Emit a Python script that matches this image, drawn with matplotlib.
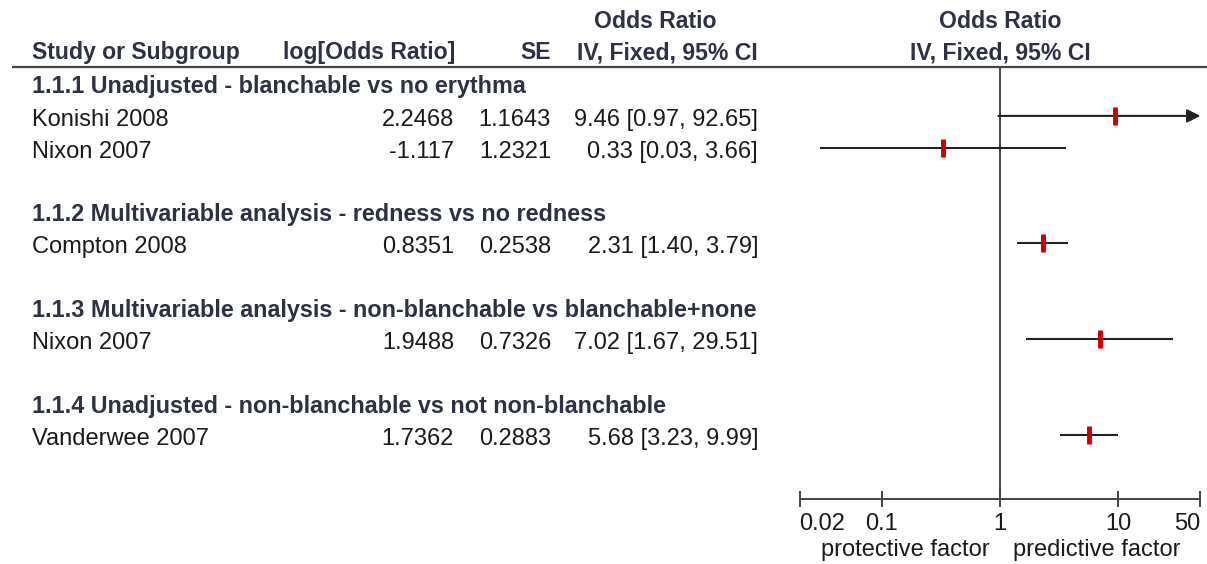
import matplotlib
matplotlib.use("Agg")
import matplotlib.pyplot as plt

# ---- data -------------------------------------------------------------
subgroups = [
    "1.1.1 Unadjusted - blanchable vs no erythma",
    "1.1.2 Multivariable analysis - redness vs no redness",
    "1.1.3 Multivariable analysis - non-blanchable vs blanchable+none",
    "1.1.4 Unadjusted - non-blanchable vs not non-blanchable",
]
subgroup_rows = [0, 4, 7, 10]

studies = ["Konishi 2008", "Nixon 2007", "Compton 2008", "Nixon 2007", "Vanderwee 2007"]
study_rows = [1, 2, 5, 8, 11]
log_or = ["2.2468", "-1.117", "0.8351", "1.9488", "1.7362"]
se = ["1.1643", "1.2321", "0.2538", "0.7326", "0.2883"]
odds_ratio = [9.46, 0.33, 2.31, 7.02, 5.68]
ci_low = [0.97, 0.03, 1.40, 1.67, 3.23]
ci_high = [92.65, 3.66, 3.79, 29.51, 9.99]

tick_values = [0.02, 0.1, 1, 10, 50]
tick_labels = ["0.02", "0.1", "1", "10", "50"]
x_min, x_max = 0.02, 50

# ---- layout -----------------------------------------------------------
W, H = 1207, 564
ROW0, ROW_H = 84.0, 31.9          # pixel y of row 0 and row pitch


def row_of(py):
    return (py - ROW0) / ROW_H


def nudge(px):
    return px / ROW_H


FONT = "Liberation Sans"
FS = 17
FS_HEAD = 16.6
HEAD_C = "#2c3244"
TEXT_C = "#1a1a1a"
LINE_C = "#444444"

fig = plt.figure(figsize=(W / 100, H / 100), dpi=100)
fig.patch.set_facecolor("white")

# background axes for the table: x in pixels, y in row units
bg = fig.add_axes([0, 0, 1, 1])
bg.set_xlim(0, W)
bg.set_ylim(row_of(H), row_of(0))
bg.axis("off")

# forest plot axes on a log scale
px_left = 1000 - 118 * 1.699
px_right = 1000 + 118 * 1.699
py_top, py_bot = 67, 499
fax = fig.add_axes([px_left / W, (H - py_bot) / H,
                    (px_right - px_left) / W, (py_bot - py_top) / H])
fax.set_xscale("log")
fax.set_xlim(x_min, x_max)
fax.set_ylim(row_of(py_bot), row_of(py_top))
fax.patch.set_alpha(0)
for s in ("top", "right", "left"):
    fax.spines[s].set_visible(False)
fax.spines["bottom"].set_color(LINE_C)
fax.spines["bottom"].set_linewidth(1.4)
fax.set_yticks([])
fax.set_xticks(tick_values)
fax.set_xticklabels(tick_labels)
fax.minorticks_off()
fax.tick_params(axis="x", direction="inout", length=12, width=1.4,
                color=LINE_C, pad=4, labelsize=FS, labelcolor=TEXT_C)
for lab in fax.get_xticklabels():
    lab.set_fontfamily(FONT)
labs = fax.get_xticklabels()
labs[0].set_ha("left")
labs[-1].set_ha("right")

# line of no effect
fax.axvline(1, color=LINE_C, lw=1.4, zorder=1)

# confidence intervals and point estimates
for r, o, lo, hi in zip(study_rows, odds_ratio, ci_low, ci_high):
    lo_c, hi_c = max(lo, x_min), min(hi, x_max)
    if hi > x_max:
        fax.annotate("", xy=(hi_c, r), xytext=(lo_c, r),
                     arrowprops=dict(arrowstyle="-|>", color="#222222",
                                     lw=1.5, mutation_scale=20,
                                     shrinkA=0, shrinkB=0),
                     annotation_clip=False, zorder=2)
    else:
        fax.plot([lo_c, hi_c], [r, r], color="#222222", lw=1.5,
                 solid_capstyle="butt", zorder=2, clip_on=False)
    fax.plot([o], [r], marker="|", color="#cc0000", markersize=12.5,
             mew=3.5, zorder=3, clip_on=False)

# ---- headers -----------------------------------------------------------
head = dict(fontfamily=FONT, fontsize=FS_HEAD, fontweight="bold",
            color=HEAD_C, va="center")
y1, y2 = row_of(22), row_of(53)
bg.text(32, y2, "Study or Subgroup", ha="left", **head)
bg.text(455, y2, "log[Odds Ratio]", ha="right", **head)
bg.text(551, y2, "SE", ha="right", **head)
bg.text(655, y1, "Odds Ratio", ha="center", **head)
bg.text(758, y2, "IV, Fixed, 95% CI", ha="right", **head)
bg.text(1000, y1, "Odds Ratio", ha="center", **head)
bg.text(1000, y2, "IV, Fixed, 95% CI", ha="center", **head)

bg.plot([12, W], [row_of(67), row_of(67)], color=LINE_C, lw=1.6,
        solid_capstyle="butt")

# ---- table body --------------------------------------------------------
sub = dict(head, fontsize=16.8)
for r, label in zip(subgroup_rows, subgroups):
    bg.text(32, r + nudge(3), label, ha="left", **sub)

body = dict(fontfamily=FONT, fontsize=FS, color=TEXT_C, va="center")
for i, r in enumerate(study_rows):
    y = r + nudge(4)
    bg.text(32, y, studies[i], ha="left", **body)
    bg.text(454, y, log_or[i], ha="right", **body)
    bg.text(551, y, se[i], ha="right", **body)
    bg.text(758, y, f"{odds_ratio[i]:.2f} [{ci_low[i]:.2f}, {ci_high[i]:.2f}]",
            ha="right", **body)

# favour labels under the axis
bg.text(990, row_of(550), "protective factor", ha="right", **body)
bg.text(1013, row_of(550), "predictive factor", ha="left", **body)

fig.savefig("out.png", dpi=100, facecolor="white")
